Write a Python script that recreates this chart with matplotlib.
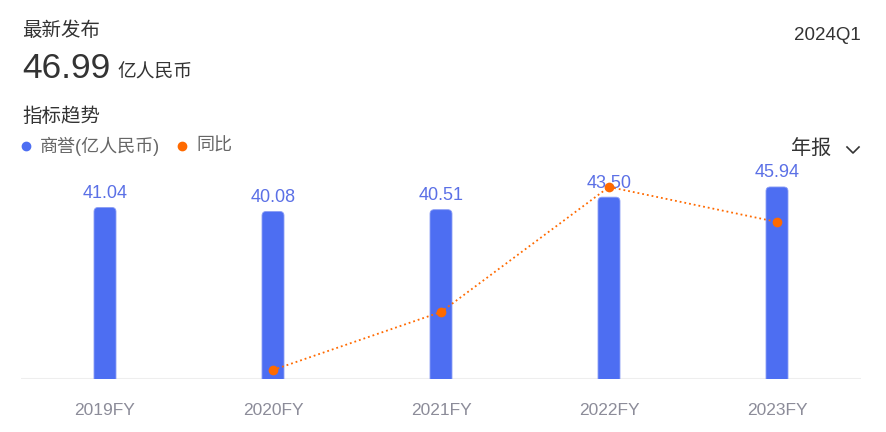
import numpy as np
import matplotlib.pyplot as plt
from matplotlib.patches import FancyBboxPatch
from matplotlib.lines import Line2D

plt.rcParams['font.family'] = ['Liberation Sans', 'Noto Sans CJK SC', 'DejaVu Sans']

# Datos
anios = ["2019FY", "2020FY", "2021FY", "2022FY", "2023FY"]
shangyu = [41.04, 40.08, 40.51, 43.50, 45.94]   # 亿人民币
tongbi = [None, -2.34, 0.74, 7.38, 5.52]        # %

azul = "#4d6ef2"
azul_txt = "#5b70e6"
naranja = "#ff6a00"

fig = plt.figure(figsize=(8.86, 4.32), dpi=100)
W, H = 886, 432

# cabecera
fig.text(22 / W, 1 - 31 / H, "最新发布", fontsize=14, color="#333333", va="center")
fig.text(22 / W, 1 - 78 / H, "46.99", fontsize=25.5, color="#333333", va="baseline")
fig.text(117 / W, 1 - 78 / H, "亿人民币", fontsize=13.5, color="#333333", va="baseline")
fig.text(861 / W, 1 - 36 / H, "2024Q1", fontsize=13.5, color="#333333", va="center", ha="right")
fig.text(22 / W, 1 - 117 / H, "指标趋势", fontsize=14, color="#333333", va="center")

# leyenda
fig.lines.append(Line2D([26 / W], [1 - 146 / H], transform=fig.transFigure,
                        marker="o", markersize=6, color=azul, linestyle="none"))
fig.text(40 / W, 1 - 146 / H, "商誉(亿人民币)", fontsize=13, color="#666666", va="center")
fig.lines.append(Line2D([182 / W], [1 - 146 / H], transform=fig.transFigure,
                        marker="o", markersize=6, color=naranja, linestyle="none"))
fig.text(196 / W, 1 - 146 / H, "同比", fontsize=13, color="#666666", va="center")

# selector
fig.text(831 / W, 1 - 149 / H, "年报", fontsize=14.5, color="#333333", va="center", ha="right")
fig.lines.append(Line2D([847 / W, 853 / W, 859 / W],
                        [1 - 147 / H, 1 - 153 / H, 1 - 147 / H],
                        transform=fig.transFigure, color="#333333", linewidth=1.2))

# grafico
ax = fig.add_axes([21 / W, (H - 379) / H, 840 / W, 209 / H])
x = np.arange(len(anios))
ax.set_xlim(-0.5, len(anios) - 0.5)
ax.set_ylim(0, 50)

ancho = 22 / 168
radio = 0.025
aspecto = (50 / 209) / (1 / 168)
for xi, v in zip(x, shangyu):
    barra = FancyBboxPatch((xi - ancho / 2, -2), ancho, v + 2,
                           boxstyle=f"round,pad=0,rounding_size={radio}",
                           mutation_aspect=aspecto, facecolor=azul,
                           edgecolor="#8c9ef5", linewidth=0.6, clip_on=True)
    ax.add_patch(barra)
    ax.annotate(f"{v:.2f}", (xi, v), xytext=(0, 4), textcoords="offset points",
                ha="center", va="bottom", fontsize=13, color=azul_txt)

ax.axhline(0, color="#eeeeee", linewidth=1.5, zorder=0)
ax.set_xticks(x)
ax.set_xticklabels(anios, fontsize=12.5, color="#8c8c99")
ax.tick_params(axis="x", length=0, pad=17)
ax.set_yticks([])
for s in ax.spines.values():
    s.set_visible(False)

ax2 = ax.twinx()
ax2.set_ylim(-2.82, 8.28)
xs = [xi for xi, t in zip(x, tongbi) if t is not None]
ts = [t for t in tongbi if t is not None]
ax2.plot(xs, ts, linestyle=":", color=naranja, linewidth=1.3,
         marker="o", markersize=7, markeredgewidth=0)
ax2.set_yticks([])
for s in ax2.spines.values():
    s.set_visible(False)

fig.savefig("out.png", dpi=100)
